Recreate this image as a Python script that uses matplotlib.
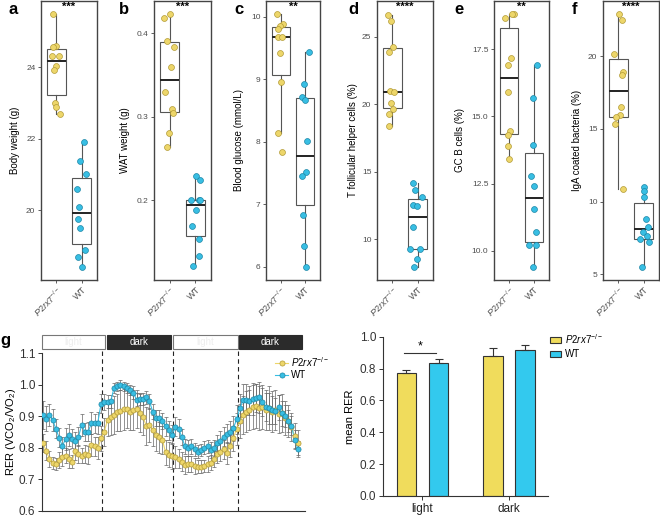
import matplotlib
matplotlib.use('Agg')
import matplotlib.pyplot as plt
import numpy as np
from matplotlib.patches import Patch, Rectangle
from matplotlib.lines import Line2D

plt.rcParams['font.family'] = ['Liberation Sans', 'DejaVu Sans']
plt.rcParams['mathtext.fontset'] = 'custom'
plt.rcParams['mathtext.rm'] = 'Liberation Sans'
plt.rcParams['mathtext.it'] = 'Liberation Sans:italic'
plt.rcParams['mathtext.bf'] = 'Liberation Sans:bold'

# ---------------- data: boxplot panels ----------------
groups = [r'$\mathit{P2rx7}^{-/-}$', 'WT']

body_ko = [25.49, 24.60, 24.56, 24.30, 24.30, 24.03, 23.93, 23.00, 22.90, 22.70]
body_wt = [21.91, 21.38, 21.00, 20.59, 20.09, 19.75, 19.49, 18.90, 18.70, 18.42]
wat_ko = [0.418, 0.423, 0.391, 0.384, 0.359, 0.330, 0.309, 0.304, 0.281, 0.264]
wat_wt = [0.229, 0.224, 0.201, 0.201, 0.200, 0.188, 0.169, 0.154, 0.133, 0.121]
glu_ko = [10.04, 9.89, 9.85, 9.81, 9.68, 9.68, 9.42, 8.96, 8.14, 7.83]
glu_wt = [9.44, 8.92, 8.71, 8.67, 8.02, 7.51, 7.46, 6.83, 6.33, 6.00]
tfh_ko = [26.60, 26.16, 24.19, 23.89, 20.99, 20.87, 20.06, 19.64, 19.27, 18.36]
tfh_wt = [14.16, 13.62, 13.12, 12.56, 12.43, 10.91, 9.31, 9.31, 8.57, 7.96]
gcb_ko = [18.82, 18.80, 18.67, 17.17, 16.91, 15.92, 14.44, 14.31, 13.89, 13.41]
gcb_wt = [16.92, 15.67, 13.92, 12.78, 12.41, 11.54, 10.68, 10.21, 10.21, 9.41]
iga_ko = [22.91, 22.50, 20.16, 18.90, 18.74, 16.50, 15.99, 15.81, 15.35, 10.89]
iga_wt = [11.00, 10.73, 10.31, 8.76, 8.25, 7.91, 7.63, 7.39, 7.22, 5.50]

# horizontal jitter of each point
body_ko_jit = [-0.12, -0.01, -0.12, -0.18, 0.10, -0.01, -0.09, -0.05, -0.01, 0.14]
body_wt_jit = [0.09, -0.08, 0.16, -0.18, -0.10, -0.16, -0.05, 0.12, -0.16, 0.03]
wat_ko_jit = [-0.22, 0.00, -0.09, 0.16, 0.07, -0.16, 0.09, 0.13, -0.03, -0.11]
wat_wt_jit = [0.03, 0.16, -0.18, 0.12, 0.18, 0.03, -0.14, 0.13, 0.14, -0.11]
glu_ko_jit = [-0.15, 0.08, -0.05, -0.10, -0.13, 0.06, -0.05, 0.00, -0.10, 0.04]
glu_wt_jit = [0.15, -0.05, -0.15, -0.03, 0.06, 0.03, -0.15, -0.09, -0.06, 0.03]
tfh_ko_jit = [-0.17, -0.05, 0.03, -0.14, -0.08, 0.08, -0.05, 0.03, -0.14, -0.14]
tfh_wt_jit = [-0.19, -0.10, 0.16, -0.19, -0.04, -0.17, -0.30, 0.09, -0.04, -0.14]
gcb_ko_jit = [0.19, 0.10, -0.18, 0.06, -0.03, -0.06, 0.04, -0.03, -0.06, 0.00]
gcb_wt_jit = [0.10, -0.04, -0.06, -0.14, 0.01, -0.01, 0.06, -0.19, 0.09, -0.03]
iga_ko_jit = [0.04, 0.16, -0.16, 0.19, 0.14, 0.09, 0.06, -0.09, -0.13, 0.19]
iga_wt_jit = [0.03, 0.00, 0.00, 0.10, 0.17, -0.03, 0.13, -0.16, 0.21, -0.06]

panel_letters = ['a', 'b', 'c', 'd', 'e', 'f']
panel_ylabels = ['Body weight (g)', 'WAT weight (g)', 'Blood glucose (mmol/L)',
                 'T follicular helper cells (%)', 'GC B cells (%)', 'IgA coated bacteria (%)']
panel_stars = ['***', '***', '**', '****', '**', '****']
panel_yticks = [[20, 22, 24], [0.2, 0.3, 0.4], [6, 7, 8, 9, 10], [10, 15, 20, 25],
                [10.0, 12.5, 15.0, 17.5], [5, 10, 15, 20]]
panel_ytick_labels = [['20', '22', '24'], ['0.2', '0.3', '0.4'], ['6', '7', '8', '9', '10'],
                      ['10', '15', '20', '25'], ['10.0', '12.5', '15.0', '17.5'],
                      ['5', '10', '15', '20']]

# ---------------- data: RER time course ----------------
ko_rer = [0.815, 0.790, 0.765, 0.751, 0.748, 0.760, 0.772, 0.775, 0.765, 0.756,
          0.790, 0.780, 0.775, 0.780, 0.777, 0.808, 0.804, 0.798, 0.830, 0.851,
          0.888, 0.897, 0.905, 0.912, 0.918, 0.922, 0.922, 0.915, 0.920, 0.922,
          0.910, 0.897, 0.870, 0.872, 0.855, 0.840, 0.833, 0.825, 0.785, 0.778,
          0.774, 0.772, 0.765, 0.755, 0.745, 0.749, 0.748, 0.742, 0.740, 0.740,
          0.742, 0.748, 0.753, 0.765, 0.780, 0.788, 0.795, 0.783, 0.804, 0.830,
          0.860, 0.885, 0.905, 0.914, 0.920, 0.928, 0.933, 0.925, 0.929, 0.920,
          0.925, 0.915, 0.920, 0.906, 0.910, 0.895, 0.885, 0.865, 0.838, 0.816]
ko_err = [0.030, 0.030, 0.025, 0.020, 0.020, 0.025, 0.030, 0.025, 0.030, 0.020,
          0.030, 0.030, 0.025, 0.030, 0.030, 0.035, 0.030, 0.035,
          0.040, 0.045, 0.050, 0.055, 0.060, 0.060, 0.065, 0.065, 0.060, 0.060,
          0.065, 0.060, 0.060, 0.055, 0.060, 0.055, 0.050, 0.050, 0.050, 0.045,
          0.040, 0.040, 0.040,
          0.035, 0.030, 0.030, 0.030, 0.025, 0.025, 0.025, 0.020, 0.020, 0.020,
          0.025, 0.025, 0.025, 0.030, 0.030, 0.030, 0.035, 0.035,
          0.040, 0.050, 0.055, 0.060, 0.065, 0.065, 0.070, 0.070, 0.070, 0.070,
          0.065, 0.070, 0.065, 0.065, 0.060, 0.060, 0.055, 0.050, 0.045, 0.040, 0.040]
wt_rer = [0.905, 0.892, 0.905, 0.888, 0.860, 0.832, 0.805, 0.828, 0.842, 0.828,
          0.820, 0.835, 0.872, 0.850, 0.851, 0.878, 0.878, 0.880, 0.940, 0.946,
          0.946, 0.947, 0.990, 0.995, 1.000, 0.995, 0.990, 0.984, 0.975, 0.953,
          0.955, 0.955, 0.960, 0.947, 0.915, 0.895, 0.894, 0.885, 0.868, 0.855,
          0.842, 0.867, 0.860, 0.835, 0.804, 0.798, 0.804, 0.795, 0.788, 0.793,
          0.800, 0.804, 0.792, 0.800, 0.814, 0.822, 0.835, 0.845, 0.850, 0.862,
          0.890, 0.925, 0.952, 0.953, 0.950, 0.955, 0.957, 0.960, 0.945, 0.930,
          0.925, 0.920, 0.917, 0.928, 0.910, 0.900, 0.885, 0.870, 0.825, 0.795]
wt_err = [0.045, 0.040, 0.035, 0.035, 0.030, 0.030, 0.030, 0.035, 0.035, 0.030,
          0.030, 0.030, 0.035, 0.030, 0.030, 0.035, 0.030, 0.035,
          0.030, 0.025, 0.020, 0.020, 0.015, 0.015, 0.015, 0.015, 0.015, 0.015,
          0.020, 0.020, 0.020, 0.020, 0.020, 0.025, 0.025, 0.025, 0.025, 0.025,
          0.030, 0.030, 0.030,
          0.030, 0.030, 0.025, 0.025, 0.025, 0.025, 0.020, 0.020, 0.020, 0.020,
          0.020, 0.025, 0.025, 0.025, 0.030, 0.030, 0.030, 0.035,
          0.040, 0.045, 0.045, 0.050, 0.050, 0.045, 0.050, 0.045, 0.050, 0.045,
          0.045, 0.050, 0.045, 0.040, 0.040, 0.040, 0.035, 0.035, 0.030, 0.030, 0.025]
phase_names = ['light', 'dark', 'light', 'dark']
phase_start = [-0.3, 19.8, 40.3, 60.7]
phase_end = [19.2, 39.7, 60.4, 80.2]
phase_changes = [18.2, 40.4, 60.5]

# ---------------- data: mean RER bars ----------------
bar_cats = ['light', 'dark']
bar_ko = [0.770, 0.881]
bar_ko_err = [0.019, 0.046]
bar_wt = [0.833, 0.918]
bar_wt_err = [0.025, 0.030]

# ---------------- styling ----------------
YEL = '#EDD66A'
YEL_E = '#B29A35'
BLU = '#38BEE3'
BLU_E = '#1C86A6'
BAR_YEL = '#F0DC5C'
BAR_BLU = '#33C9EE'
DARK = '#333333'

W, H = 660, 517
fig = plt.figure(figsize=(6.6, 5.17), dpi=100)


def rect(l, t, r, b):
    return [l / W, 1 - b / H, (r - l) / W, (b - t) / H]


def ftext(x, y, s, **kw):
    fig.text(x / W, 1 - y / H, s, **kw)


box_kos = [body_ko, wat_ko, glu_ko, tfh_ko, gcb_ko, iga_ko]
box_wts = [body_wt, wat_wt, glu_wt, tfh_wt, gcb_wt, iga_wt]
box_ko_jits = [body_ko_jit, wat_ko_jit, glu_ko_jit, tfh_ko_jit, gcb_ko_jit, iga_ko_jit]
box_wt_jits = [body_wt_jit, wat_wt_jit, glu_wt_jit, tfh_wt_jit, gcb_wt_jit, iga_wt_jit]

box_lr = [(41, 97), (154, 211), (266, 320), (377, 433), (494, 549), (603, 659)]
box_ylims = [(18.05, 25.85), (0.1048, 0.4385), (5.79, 10.25), (6.98, 27.63),
             (8.91, 19.29), (4.59, 23.82)]
ylabel_x = [15, 125, 239, 353, 460, 577]
letter_x = [13, 124, 239, 353, 459, 574]

for k in range(6):
    l, r = box_lr[k]
    ax = fig.add_axes(rect(l, 1, r, 280))
    ax.boxplot([box_kos[k], box_wts[k]], positions=[1, 2], widths=0.75,
               patch_artist=True, showfliers=False, showcaps=False,
               boxprops=dict(facecolor='white', edgecolor='#555555', linewidth=0.8),
               medianprops=dict(color='#222222', linewidth=1.4),
               whiskerprops=dict(color='#555555', linewidth=0.8))
    ax.scatter(1 + np.array(box_ko_jits[k]), box_kos[k], s=18, c=YEL,
               edgecolors=YEL_E, linewidths=0.5, zorder=3)
    ax.scatter(2 + np.array(box_wt_jits[k]), box_wts[k], s=18, c=BLU,
               edgecolors=BLU_E, linewidths=0.5, zorder=3)
    ax.set_xlim(0.4, 2.6)
    ax.set_ylim(*box_ylims[k])
    ax.set_yticks(panel_yticks[k])
    ax.set_yticklabels(panel_ytick_labels[k], fontsize=6, color='#4d4d4d')
    ax.set_xticks([1, 2])
    ax.set_xticklabels(groups, fontsize=6.5, color='#4d4d4d', rotation=45,
                       ha='right', rotation_mode='anchor')
    for sp in ax.spines.values():
        sp.set_color('#444444')
        sp.set_linewidth(1.0)
    ax.tick_params(direction='out', length=2.5, width=0.6, color='#444444', pad=1.5)
    ax.text(1.5, 1 - 6 / 279, panel_stars[k], transform=ax.get_xaxis_transform(),
            ha='center', va='center', fontsize=8, fontweight='bold')
    ftext(ylabel_x[k], 140, panel_ylabels[k], rotation=90, ha='center', va='center',
          fontsize=7)
    ftext(letter_x[k], 9, panel_letters[k], ha='center', va='center', fontsize=12,
          fontweight='bold')

# ---------------- panel g: time course ----------------
t = np.arange(len(ko_rer))
axg = fig.add_axes(rect(42, 353.3, 305, 510.7))
axg.errorbar(t, ko_rer, yerr=ko_err, fmt='none', ecolor='#666666', elinewidth=0.5,
             capsize=1.3, capthick=0.5, zorder=1)
axg.errorbar(t, wt_rer, yerr=wt_err, fmt='none', ecolor='#666666', elinewidth=0.5,
             capsize=1.3, capthick=0.5, zorder=1)
axg.plot(t, ko_rer, '-', color=YEL, lw=0.8, zorder=2)
axg.plot(t, wt_rer, '-', color=BLU, lw=0.8, zorder=2)
axg.plot(t, ko_rer, 'o', ms=3.7, mfc=YEL, mec=YEL_E, mew=0.5, zorder=3)
axg.plot(t, wt_rer, 'o', ms=3.7, mfc=BLU, mec=BLU_E, mew=0.5, zorder=4)
axg.set_xlim(-0.3, 81.2)
axg.set_ylim(0.6, 1.1)
axg.set_yticks([0.6, 0.7, 0.8, 0.9, 1.0, 1.1])
axg.set_yticklabels(['0.6', '0.7', '0.8', '0.9', '1.0', '1.1'], fontsize=8.5, color='#333333')
axg.set_xticks([])
axg.spines['top'].set_visible(False)
axg.spines['right'].set_visible(False)
axg.spines['left'].set_color(DARK)
axg.spines['bottom'].set_color(DARK)
axg.spines['left'].set_linewidth(0.8)
axg.spines['bottom'].set_linewidth(0.8)
axg.tick_params(axis='y', direction='out', length=3, width=0.7, color=DARK, pad=2)
for xc in phase_changes:
    axg.axvline(xc, ymin=0, ymax=1.025, color='#222222', lw=0.8, ls=(0, (4, 3)),
                clip_on=False, zorder=0)
ftext(11, 432, r'RER (VCO$_2$/VO$_2$)', rotation=90, ha='center', va='center', fontsize=8)
ftext(5, 340, 'g', ha='center', va='center', fontsize=12, fontweight='bold')

leg_handles = [Line2D([], [], color=YEL, lw=0.8, marker='o', ms=3.7, mfc=YEL, mec=YEL_E, mew=0.5),
               Line2D([], [], color=BLU, lw=0.8, marker='o', ms=3.7, mfc=BLU, mec=BLU_E, mew=0.5)]
axg.legend(leg_handles, groups, loc='upper left', bbox_to_anchor=(0.885, 0.99),
           frameon=False, fontsize=7, handlelength=1.4, handletextpad=0.3,
           labelspacing=0.15, borderpad=0, borderaxespad=0)

# light/dark bar
axp = fig.add_axes(rect(42, 335, 305, 349.3))
axp.set_xlim(-0.3, 81.2)
axp.set_ylim(0, 1)
axp.axis('off')
for name, s, e in zip(phase_names, phase_start, phase_end):
    fc = '#2b2b2b' if name == 'dark' else 'white'
    ec = '#2b2b2b' if name == 'dark' else '#777777'
    tc = 'white' if name == 'dark' else '#eeeeee'
    axp.add_patch(Rectangle((s, 0.02), e - s, 0.96, facecolor=fc, edgecolor=ec,
                            lw=0.8, clip_on=False))
    axp.text((s + e) / 2, 0.5, name, ha='center', va='center', fontsize=7, color=tc)

# ---------------- mean RER bars ----------------
axb = fig.add_axes(rect(383, 336.7, 548, 496))
xb = np.arange(len(bar_cats))
off = 0.186
bw = 0.225
axb.bar(xb - off, bar_ko, bw, color=BAR_YEL, edgecolor=DARK, lw=0.8,
        yerr=[np.zeros(2), bar_ko_err],
        error_kw=dict(ecolor=DARK, elinewidth=0.8, capsize=2.8, capthick=0.8))
axb.bar(xb + off, bar_wt, bw, color=BAR_BLU, edgecolor=DARK, lw=0.8,
        yerr=[np.zeros(2), bar_wt_err],
        error_kw=dict(ecolor=DARK, elinewidth=0.8, capsize=2.8, capthick=0.8))
axb.set_xlim(-0.455, 1.45)
axb.set_ylim(0, 1.0)
axb.set_yticks([0.0, 0.2, 0.4, 0.6, 0.8, 1.0])
axb.set_yticklabels(['0.0', '0.2', '0.4', '0.6', '0.8', '1.0'], fontsize=8.5, color='#333333')
axb.set_xticks(xb)
axb.set_xticklabels(bar_cats, fontsize=8.5, color='#222222')
axb.spines['top'].set_visible(False)
axb.spines['right'].set_visible(False)
axb.spines['left'].set_color(DARK)
axb.spines['bottom'].set_color(DARK)
axb.tick_params(direction='out', length=3, width=0.7, color=DARK, pad=2)
axb.set_ylabel('mean RER', fontsize=8, labelpad=3)
axb.plot([-off - 0.03, off - 0.03], [0.895, 0.895], color=DARK, lw=0.8)
axb.text(-0.03, 0.9, '*', ha='center', va='bottom', fontsize=9)
bar_handles = [Patch(facecolor=BAR_YEL, edgecolor=DARK, lw=0.8),
               Patch(facecolor=BAR_BLU, edgecolor=DARK, lw=0.8)]
axb.legend(bar_handles, groups, loc='upper left', bbox_to_anchor=(1.01, 1.03),
           frameon=False, fontsize=7, handlelength=1.2, handleheight=0.6,
           handletextpad=0.4, labelspacing=0.35, borderpad=0, borderaxespad=0)

fig.savefig('out.png', dpi=100)
